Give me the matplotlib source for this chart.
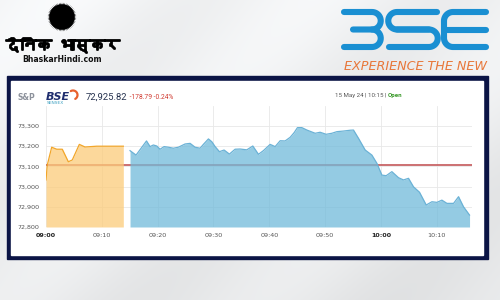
import numpy as np
import matplotlib
matplotlib.use("Agg")
import matplotlib.pyplot as plt
import matplotlib.patheffects as pe
from matplotlib import font_manager, ft2font

# ---------------- data ----------------
preopen_minutes = [0, 0.23, 1.02, 1.92, 2.92, 4.0, 4.71, 5.97, 6.99, 9.09, 13.85]
preopen_values = [73033, 73107, 73195, 73185, 73185, 73123, 73132, 73209, 73196, 73200, 73200]

session_minutes = [15.05, 16.13, 18.0, 18.64, 19.23, 19.84, 20.43, 21.15, 21.92, 22.81,
                   23.71, 24.91, 25.81, 26.70, 27.60, 28.19, 29.09, 29.70, 30.29, 31.06,
                   31.90, 32.85, 33.87, 34.77, 35.97, 37.04, 38.05, 38.94, 40.14, 41.04,
                   41.94, 42.83, 43.73, 44.44, 45.04, 45.82, 46.72, 48.21, 49.10, 50.18,
                   51.20, 52.10, 53.28, 54.48, 55.07, 55.97, 57.17, 58.37, 59.27, 60.16,
                   60.93, 61.95, 63.14, 64.03, 64.93, 65.82, 66.90, 68.10, 69.12, 70.02,
                   70.91, 71.81, 73.0, 73.89, 74.78, 75.86]
session_values = [73178, 73156, 73226, 73198, 73206, 73201, 73185, 73198, 73195, 73190,
                  73195, 73211, 73214, 73195, 73190, 73209, 73236, 73222, 73198, 73173,
                  73181, 73161, 73185, 73186, 73182, 73201, 73160, 73178, 73209, 73198,
                  73227, 73226, 73244, 73267, 73292, 73292, 73280, 73264, 73269, 73259,
                  73264, 73272, 73275, 73279, 73280, 73239, 73181, 73156, 73115, 73057,
                  73054, 73074, 73044, 73033, 73041, 72999, 72972, 72909, 72925, 72922,
                  72933, 72917, 72917, 72950, 72900, 72859]

prev_close = 73104.61
last_price = "72,925.82"
change_text = "-178.79 -0.24%"
date_text = "15 May 24 | 10:15 | "
status_text = "Open"

tick_minutes = [0, 10, 20, 30, 40, 50, 60, 70]
tick_labels = ["09:00", "09:10", "09:20", "09:30", "09:40", "09:50", "10:00", "10:10"]
bold_ticks = ["09:00", "10:00"]
y_ticks = [72800, 72900, 73000, 73100, 73200, 73300]
y_tick_labels = ["72,800", "72,900", "73,000", "73,100", "73,200", "73,300"]

brand_hindi = "दैनिक भास्कर"
brand_site = "BhaskarHindi.com"
bse_tagline = "EXPERIENCE THE NEW"


def find_font(cp):
    for f in font_manager.fontManager.ttflist:
        try:
            if cp in ft2font.FT2Font(f.fname).get_charmap():
                return f.name
        except Exception:
            pass
    return None


deva_font = find_font(0x0926) or "DejaVu Sans"

W, H = 500, 300
fig = plt.figure(figsize=(5, 3), dpi=100)

# --------------- background / decorations (pixel coords) ---------------
bg = fig.add_axes([0, 0, 1, 1], zorder=0)
bg.set_xlim(0, W)
bg.set_ylim(H, 0)
bg.axis("off")
yy, xx = np.mgrid[0:H, 0:W]
grad = 0.97 - 0.045 * (yy / H) - 0.02 * (xx / W) + 0.02 * np.sin((xx + yy) / 40.0)
grad = np.clip(grad, 0, 1)
bg.imshow(np.dstack([grad * 0.99, grad * 0.995, grad * 1.0]).clip(0, 1),
          extent=(0, W, H, 0), aspect="auto", zorder=0)

# navy frame + white card
bg.add_patch(plt.Rectangle((7, 76), 481, 183, color="#0b1445", zorder=1))
bg.add_patch(plt.Rectangle((11, 81), 472, 174, color="white", zorder=2))

# Dainik Bhaskar sun
ang = np.linspace(0, 2 * np.pi, 121)
rad = np.where(np.arange(121) % 2 == 0, 14.5, 11.5)
bg.fill(62 + rad * np.cos(ang), 17 + rad * np.sin(ang), color="black", lw=0, zorder=3)
bg.add_patch(plt.Circle((62, 17), 12, color="black", zorder=3))
bg.text(63, 45, brand_hindi, fontsize=11, fontweight="bold", family=[deva_font, "DejaVu Sans"],
        ha="center", va="center", color="black", zorder=3,
        path_effects=[pe.withStroke(linewidth=1.3, foreground="black")])
bg.text(62, 60, brand_site, fontsize=5.6, fontweight="bold", family="DejaVu Sans",
        ha="center", va="center", color="#111111", zorder=3)

# BSE logo strokes
blue = "#1a8fd2"


def arc(cx, cy, r, t0, t1, n=20):
    t = np.radians(np.linspace(t0, t1, n))
    return list(cx + r * np.cos(t)), list(cy + r * np.sin(t))


def stroke(xs, ys):
    bg.plot(xs, ys, color=blue, lw=4.4, solid_capstyle="round", solid_joinstyle="round", zorder=3)


yt, ym, yb = 12, 29.5, 47
r1 = (ym - yt) / 2
r2 = (yb - ym) / 2
# "3"
ax_, ay_ = arc(372, yt + r1, r1, -90, 90)
stroke([344] + ax_ + [353], [yt] + ay_ + [ym])
ax_, ay_ = arc(372, ym + r2, r2, -90, 90)
stroke([372] + ax_ + [344], [ym] + ay_ + [yb])
# "S"
ax_, ay_ = arc(397, yt + r1, r1, -90, -270)
stroke([437] + ax_ + [429], [yt] + ay_ + [ym])
ax_, ay_ = arc(429, ym + r2, r2, -90, 90)
stroke([397] + ax_ + [389], [ym] + ay_ + [yb])
# "E"
a1x, a1y = arc(453, yt + 9, 9, -90, -180)
a2x, a2y = arc(453, yb - 9, 9, 180, 90)
stroke([486] + a1x + a2x + [486], [yt] + a1y + a2y + [yb])
stroke([447, 486], [ym, ym])
bg.text(415, 67, bse_tagline, fontsize=9.2, color="#e8773a", style="italic",
        family="DejaVu Sans", ha="center", va="center", zorder=3)

# --------------- header inside card ---------------
bg.text(17, 98, "S&P", fontsize=5.5, fontweight="bold", color="#8c919b", ha="left", va="center", zorder=3)
bg.text(46, 97, "BSE", fontsize=8, fontweight="bold", style="italic", color="#1f2d6e",
        ha="left", va="center", zorder=3)
sx, sy = arc(73, 95, 4.5, -120, 60)
bg.plot(sx, sy, color="#e8602c", lw=1.6, zorder=3, solid_capstyle="round")
bg.text(47, 103.5, "SENSEX", fontsize=3.2, color="#3a9fc0", ha="left", va="center", zorder=3)
t_price = bg.text(86, 97, last_price, fontsize=6.8, color="#26324f", ha="left", va="center",
                  family="Roboto", zorder=3)
bg.annotate(" " + change_text, xy=(1, 0.1), xycoords=t_price, fontsize=4.8, color="#d0392f",
            ha="left", va="bottom", family="Roboto", zorder=3)
t_date = bg.text(335, 95, date_text, fontsize=4.4, color="#555555", ha="left", va="center",
                 family="Roboto", zorder=3)
bg.annotate(status_text, xy=(1, 0), xycoords=t_date, fontsize=4.4, color="#3a9a2a",
            fontweight="bold", ha="left", va="bottom", family="Roboto", zorder=3)

# --------------- chart ---------------
x0, x1 = 46, 472
y_top, y_bot = 105.8, 227
ax = fig.add_axes([x0 / W, 1 - y_bot / H, (x1 - x0) / W, (y_bot - y_top) / H], zorder=2)
ax.patch.set_alpha(0)
ax.set_xlim(0, 76.3)
ax.set_ylim(72800, 73400)

ax.axhline(prev_close, color="#c4585a", lw=1.2, zorder=1)
ax.fill_between(preopen_minutes, preopen_values, 72800, color="#fccc7a", alpha=0.75, lw=0, zorder=2)
ax.plot(preopen_minutes, preopen_values, color="#f2a62a", lw=0.9, zorder=3)
ax.fill_between(session_minutes, session_values, 72800, color="#70bada", alpha=0.75, lw=0, zorder=2)
ax.plot(session_minutes, session_values, color="#6bb2d6", lw=0.9, zorder=3)

ax.set_xticks(tick_minutes)
ax.set_xticklabels(tick_labels)
ax.set_yticks(y_ticks)
ax.set_yticklabels(y_tick_labels)
ax.tick_params(axis="both", length=0, labelsize=4.6, labelcolor="#555555")
ax.tick_params(axis="x", pad=4)
ax.tick_params(axis="y", pad=4.5)
for lab in ax.get_xticklabels():
    lab.set_family("DejaVu Sans")
    if lab.get_text() in bold_ticks:
        lab.set_fontweight("bold")
        lab.set_color("#222222")
ax.grid(True, color="#e8e8e8", lw=0.6, zorder=0)
ax.set_axisbelow(True)
for s in ax.spines.values():
    s.set_visible(False)

fig.savefig("out.png", dpi=100)
